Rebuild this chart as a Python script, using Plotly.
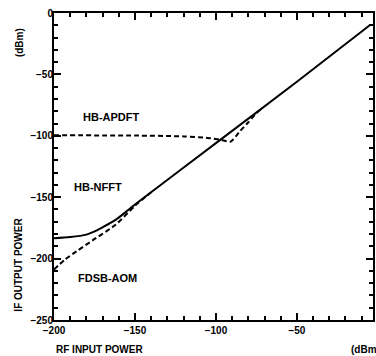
import plotly.graph_objects as go

# HB-NFFT (solid)
nfft_x = [-200, -190, -180, -176, -170, -162, -150, -100, -50, -5]
nfft_y = [-183.5, -182.5, -180.5, -178.5, -174.5, -168.5, -156, -106, -56, -10]

# FDSB-AOM (dashed)
aom_x = [-200, -193.5, -186, -176, -162, -150, -140]
aom_y = [-209, -201, -194, -185, -172.5, -157, -146]

# HB-APDFT (dashed)
apd_x = [-200, -150, -120, -105, -97, -91, -85, -80, -76, -72]
apd_y = [-99.6, -99.8, -100.5, -101.8, -103.2, -104.8, -96, -89, -83, -78]

labels = ["HB-APDFT", "HB-NFFT", "FDSB-AOM"]
label_x = [-165, -173, -167]
label_y = [-85, -142, -216]

FONT = "Liberation Sans, Arial, sans-serif"

fig = go.Figure()
fig.add_trace(go.Scatter(x=nfft_x, y=nfft_y, mode="lines",
                         line=dict(color="black", width=2, shape="spline", smoothing=0.8)))
fig.add_trace(go.Scatter(x=aom_x, y=aom_y, mode="lines",
                         line=dict(color="black", width=2, dash="5px,3px", shape="spline", smoothing=0.6)))
fig.add_trace(go.Scatter(x=apd_x, y=apd_y, mode="lines",
                         line=dict(color="black", width=2, dash="5px,3px", shape="spline", smoothing=0.6)))

for t, lx, ly in zip(labels, label_x, label_y):
    fig.add_annotation(x=lx, y=ly, text=t, showarrow=False, xanchor="center", yanchor="middle",
                       font=dict(family=FONT, size=11, color="black", weight="bold"))

fig.add_annotation(xref="paper", yref="paper", x=-0.11, y=0.905, text="(dBm)", textangle=-90,
                   showarrow=False, xanchor="center", yanchor="middle",
                   font=dict(family=FONT, size=10, color="black", weight="bold"))
fig.add_annotation(xref="paper", yref="paper", x=-0.11, y=0.18, text="IF OUTPUT POWER", textangle=-90,
                   showarrow=False, xanchor="center", yanchor="middle",
                   font=dict(family=FONT, size=10, color="black", weight="bold"))
fig.add_annotation(xref="paper", yref="paper", x=0.0, y=-0.095, text="RF INPUT POWER",
                   showarrow=False, xanchor="left", yanchor="middle",
                   font=dict(family=FONT, size=10, color="black", weight="bold"))
fig.add_annotation(xref="paper", yref="paper", x=0.925, y=-0.095, text="(dBm)",
                   showarrow=False, xanchor="left", yanchor="middle",
                   font=dict(family=FONT, size=10, color="black", weight="bold"))

axis_common = dict(showgrid=True, gridcolor="rgba(0,0,0,0)",
                   zeroline=True, zerolinecolor="rgba(0,0,0,0)",
                   showline=True, linecolor="black", linewidth=2,
                   ticks="inside", ticklen=7, tickwidth=2, tickcolor="black", mirror="allticks",
                   tickmode="linear", tick0=0, dtick=50,
                   tickfont=dict(family=FONT, size=10, color="black", weight="bold"),
                   minor=dict(dtick=10, tick0=0, ticks="inside", ticklen=4, tickwidth=1.5,
                              tickcolor="black", showgrid=True, gridcolor="rgba(0,0,0,0)"))

fig.update_xaxes(range=[-200, -3], **axis_common)
fig.update_yaxes(range=[-250, 0], ticklabelstandoff=-3, **axis_common)

fig.update_layout(width=376, height=356, margin=dict(l=54, r=1, t=13, b=36),
                  paper_bgcolor="white", plot_bgcolor="white", showlegend=False)

fig.write_html("out.html", config={"displayModeBar": False},
               post_script="document.body.style.margin='0';")
